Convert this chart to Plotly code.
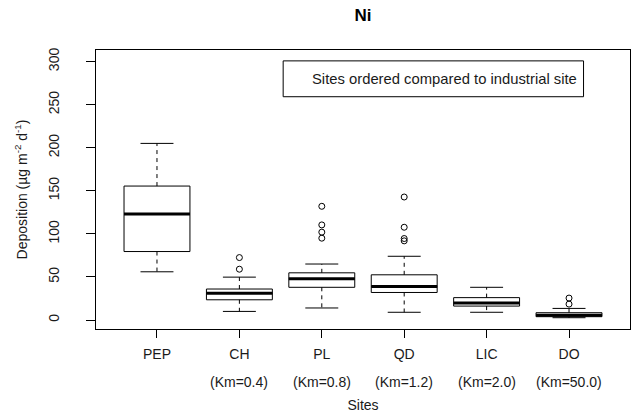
import plotly.graph_objects as go

# ---- data ----
sites = ["PEP", "CH", "PL", "QD", "LIC", "DO"]
km_labels = ["", "(Km=0.4)", "(Km=0.8)", "(Km=1.2)", "(Km=2.0)", "(Km=50.0)"]
lower_whisker = [56, 10, 14, 9, 9, 2.7]
q1 = [79.5, 23.5, 38, 32, 16.2, 3.9]
median = [123, 31, 47.8, 39, 19.7, 5.5]
q3 = [155.5, 36, 54.8, 52.5, 26, 8.5]
upper_whisker = [205, 49.8, 65, 74, 38, 13.5]
outliers = [
    [],
    [59, 72.5],
    [95, 102, 110.4, 132],
    [91.9, 94.6, 107.7, 142.8],
    [],
    [18.5, 25.5],
]
y_ticks = [0, 50, 100, 150, 200, 250, 300]

FONT = "Arial, Liberation Sans, sans-serif"
TXT = "#1a1a1a"
BOXW = 0.8
CAPW = 0.4

xs = list(range(1, len(sites) + 1))
fig = go.Figure()

# dashed whiskers
wx, wy = [], []
for i, x in enumerate(xs):
    wx += [x, x, None, x, x, None]
    wy += [q3[i], upper_whisker[i], None, q1[i], lower_whisker[i], None]
fig.add_trace(go.Scatter(x=wx, y=wy, mode="lines",
                         line=dict(color="black", width=1, dash="4px,4px"),
                         hoverinfo="skip", showlegend=False))
# caps
cx, cy = [], []
for i, x in enumerate(xs):
    for v in (upper_whisker[i], lower_whisker[i]):
        cx += [x - CAPW / 2, x + CAPW / 2, None]
        cy += [v, v, None]
fig.add_trace(go.Scatter(x=cx, y=cy, mode="lines",
                         line=dict(color="black", width=1),
                         hoverinfo="skip", showlegend=False))
# boxes
fig.add_trace(go.Box(x=xs, q1=q1, median=median, q3=q3,
                     lowerfence=q1, upperfence=q3,
                     width=BOXW, fillcolor="white",
                     line=dict(color="black", width=1),
                     whiskerwidth=0, boxpoints=False,
                     hoverinfo="skip", showlegend=False))
# thick medians
mx, my = [], []
for i, x in enumerate(xs):
    mx += [x - BOXW / 2, x + BOXW / 2, None]
    my += [median[i], median[i], None]
fig.add_trace(go.Scatter(x=mx, y=my, mode="lines",
                         line=dict(color="black", width=3),
                         hoverinfo="skip", showlegend=False))
# outliers
ox, oy = [], []
for i, x in enumerate(xs):
    for v in outliers[i]:
        ox.append(x)
        oy.append(v)
fig.add_trace(go.Scatter(x=ox, y=oy, mode="markers",
                         marker=dict(symbol="circle-open", size=6, color="black",
                                     line=dict(width=1, color="black")),
                         hoverinfo="skip", showlegend=False))

# second line of x labels
for x, k in zip(xs, km_labels):
    if k:
        fig.add_annotation(x=x, xref="x", y=-0.1886, yref="paper", text=k,
                           showarrow=False, yanchor="middle",
                           font=dict(family=FONT, size=14, color=TXT))

# legend-like box
fig.add_shape(type="rect", xref="paper", yref="paper",
              x0=0.3505, x1=0.913, y0=0.8325, y1=0.961,
              line=dict(color="black", width=1), fillcolor="white", layer="above")
fig.add_annotation(xref="paper", yref="paper", x=0.4, y=0.8967,
                   text="Sites ordered compared to industrial site",
                   showarrow=False, xanchor="left", yanchor="middle",
                   font=dict(family=FONT, size=14.8, color=TXT))

fig.update_layout(
    width=631, height=415,
    margin=dict(l=96, r=1, t=50, b=86, autoexpand=False),
    paper_bgcolor="white", plot_bgcolor="white",
    font=dict(family=FONT, size=14, color=TXT),
    title=dict(text="<b>Ni</b>", x=0.5, xref="paper", y=1 - 15.5 / 415,
               yanchor="middle", font=dict(family=FONT, size=17, color="black")),
    showlegend=False,
)
fig.update_xaxes(
    range=[0.26, 6.74], tickvals=xs, ticktext=sites,
    ticks="outside", ticklen=8, tickcolor="black", tickwidth=1,
    ticklabelstandoff=4,
    showgrid=False, zeroline=False,
    showline=True, linecolor="black", linewidth=1, mirror=True,
    title=dict(text="Sites", standoff=39, font=dict(family=FONT, size=14)),
    automargin=False,
)
fig.update_yaxes(
    range=[-10.4, 313.4], tickvals=y_ticks,
    ticks="outside", ticklen=9, tickcolor="black", tickwidth=1,
    tickangle=-90, ticklabelstandoff=21,
    showgrid=False, zeroline=False,
    showline=True, linecolor="black", linewidth=1, mirror=True,
    title=dict(text="Deposition (µg m<sup>-2</sup> d<sup>-1</sup>)", standoff=15,
               font=dict(family=FONT, size=14)),
    automargin=False,
)

fig.write_html("out.html", config={"displayModeBar": False},
               post_script="document.body.style.margin='0';document.body.style.overflow='hidden';")
